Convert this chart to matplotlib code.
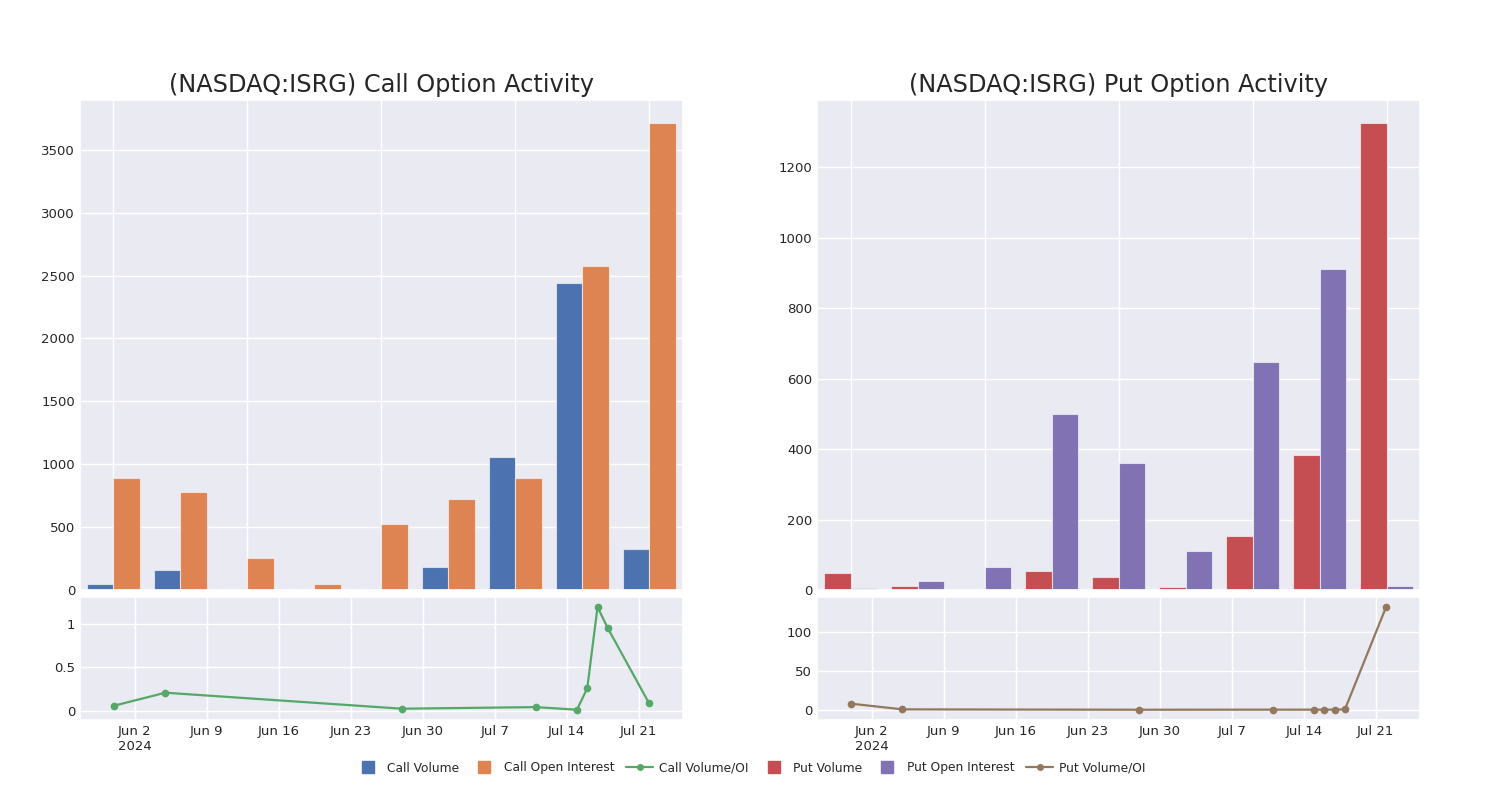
import numpy as np
import pandas as pd
import matplotlib
matplotlib.use("Agg")
from matplotlib import pyplot as plt
import matplotlib.dates as mdates
from matplotlib.lines import Line2D
import seaborn as sns

# Data
dates = ["2024-05-31", "2024-06-05", "2024-06-28", "2024-07-11", "2024-07-15",
         "2024-07-16", "2024-07-17", "2024-07-18", "2024-07-22"]
call_volume = [51, 162, 6, 2, 6, 186, 1057, 2442, 326]
call_oi = [888, 783, 258, 48, 523, 722, 888, 2577, 3710]
put_volume = [47, 12, 1, 55, 36, 8, 153, 384, 1325]
put_oi = [6, 25, 66, 500, 360, 111, 648, 910, 10]

sns.set_theme(style="darkgrid", palette="deep")
plt.rcParams['font.family'] = ['DejaVu Sans']
colors = sns.color_palette("deep")

df = pd.DataFrame({
    'date': pd.to_datetime(dates),
    'call_volume': call_volume,
    'call_oi': call_oi,
    'put_volume': put_volume,
    'put_oi': put_oi,
})
df['call_ratio'] = df['call_volume'] / df['call_oi']
df['put_ratio'] = df['put_volume'] / df['put_oi']

fig = plt.figure(figsize=(15, 8), dpi=100)


def date_fmt(x, pos=None):
    d = mdates.num2date(x)
    label = f"{d.strftime('%b')} {d.day}"
    if pos == 0:
        label += f"\n{d.year}"
    return label


def draw_side(left, vol_col, oi_col, ratio_col, c_vol, c_oi, c_line, title):
    ax_bar = fig.add_axes([left, 0.2625, 0.402, 0.6125])
    ax_line = fig.add_axes([left, 0.1, 0.402, 0.154])

    x = np.arange(len(df))
    w = 0.4
    ax_bar.bar(x - w / 2, df[vol_col], width=w, color=c_vol,
               edgecolor=(1, 1, 1, 0.6), linewidth=0.8)
    ax_bar.bar(x + w / 2, df[oi_col], width=w, color=c_oi,
               edgecolor=(1, 1, 1, 0.6), linewidth=0.8)
    ax_bar.set_xlim(-0.5, 8.5)
    ax_bar.set_xticks([0, 2, 4, 6, 8])
    ax_bar.set_xticklabels([])
    ax_bar.tick_params(axis='both', labelsize=9.5, length=0)
    ax_bar.set_title(title, fontsize=17.3, pad=6)

    ax_line.plot(df['date'], df[ratio_col], color=c_line, marker='o',
                 markersize=4.5, linewidth=1.6)
    span = df['date'].max() - df['date'].min()
    pad = span * 0.0635
    ax_line.set_xlim(df['date'].min() - pad, df['date'].max() + pad)
    rmin, rmax = df[ratio_col].min(), df[ratio_col].max()
    rpad = (rmax - rmin) * 0.1
    ax_line.set_ylim(rmin - rpad, rmax + rpad)
    ax_line.xaxis.set_major_locator(mdates.WeekdayLocator(byweekday=mdates.SU))
    ax_line.xaxis.set_major_formatter(plt.FuncFormatter(date_fmt))
    ax_line.tick_params(axis='both', labelsize=9.5, length=0)
    return ax_bar, ax_line


ax1, ax2 = draw_side(0.0533, 'call_volume', 'call_oi', 'call_ratio',
                     colors[0], colors[1], colors[2],
                     "(NASDAQ:ISRG) Call Option Activity")
ax2.set_yticks([0, 0.5, 1])
ax2.set_yticklabels(['0', '0.5', '1'])

ax3, ax4 = draw_side(0.5447, 'put_volume', 'put_oi', 'put_ratio',
                     colors[3], colors[4], colors[5],
                     "(NASDAQ:ISRG) Put Option Activity")
ax4.set_yticks([0, 50, 100])

# Shared legend at the bottom
handles = [
    Line2D([], [], marker='s', linestyle='none', color=colors[0], markersize=9),
    Line2D([], [], marker='s', linestyle='none', color=colors[1], markersize=9),
    Line2D([], [], marker='o', color=colors[2], markersize=4, linewidth=1.6),
    Line2D([], [], marker='s', linestyle='none', color=colors[3], markersize=9),
    Line2D([], [], marker='s', linestyle='none', color=colors[4], markersize=9),
    Line2D([], [], marker='o', color=colors[5], markersize=4, linewidth=1.6),
]
labels = ['Call Volume', 'Call Open Interest', 'Call Volume/OI',
          'Put Volume', 'Put Open Interest', 'Put Volume/OI']
fig.legend(handles, labels, loc='center', bbox_to_anchor=(0.5, 0.04),
           ncol=6, frameon=False, fontsize=8.8, handlelength=2.2,
           columnspacing=0.95, handletextpad=0.5)

fig.savefig('out.png', dpi=100, facecolor='white')
